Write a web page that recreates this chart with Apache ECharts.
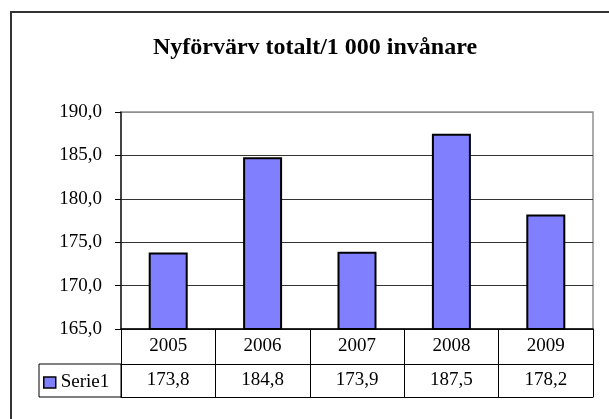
<!DOCTYPE html>
<html>
<head>
<meta charset="utf-8">
<style>
  html, body { margin: 0; padding: 0; background: #fff; overflow: hidden; }
  #chart { width: 609px; height: 419px; }
</style>
<script src="https://cdn.jsdelivr.net/npm/echarts@6/dist/echarts.min.js"></script>
</head>
<body>
<div id="chart"></div>
<script>
var years = ['2005', '2006', '2007', '2008', '2009'];
var values = [173.8, 184.8, 173.9, 187.5, 178.2];
var seriesName = 'Serie1';
var yTicks = { min: 165, max: 190, step: 5 };

// svensk decimalkomma
function fmt(v) {
  return Number(v).toFixed(1).replace('.', ',');
}

var font = 'Liberation Serif, Times New Roman, serif';
var myChart = echarts.init(document.getElementById('chart'));

myChart.setOption({
  animation: false,
  title: {
    text: 'Nyförvärv totalt/1 000 invånare',
    left: 315,
    textAlign: 'center',
    top: 36,
    padding: 0,
    textStyle: { fontFamily: font, fontSize: 24, fontWeight: 'bold', color: '#000' }
  },
  legend: {
    left: 43,
    top: 373,
    padding: 0,
    itemWidth: 12,
    itemHeight: 11,
    itemGap: 0,
    icon: 'rect',
    textStyle: { fontFamily: font, fontSize: 19, color: '#000' },
    itemStyle: { borderColor: '#000', borderWidth: 1.5 },
    data: [seriesName]
  },
  grid: {
    left: 121,
    right: 16,
    top: 112,
    bottom: 90,
    show: true,
    borderColor: '#909090',
    borderWidth: 1.5,
    backgroundColor: '#fff'
  },
  // tabellen under diagrammet: tre x-axlar ovanpå varandra
  xAxis: [{
    type: 'category',
    data: years,
    position: 'bottom',
    axisLine: { lineStyle: { color: '#000', width: 1.5 } },
    axisTick: { show: true, length: 35, lineStyle: { color: '#000', width: 1 } },
    axisLabel: { margin: 8, fontFamily: font, fontSize: 19, color: '#000' }
  }, {
    type: 'category',
    data: years,
    position: 'bottom',
    offset: 35,
    axisLine: { lineStyle: { color: '#000', width: 1 } },
    axisTick: { show: true, length: 33, lineStyle: { color: '#000', width: 1 } },
    axisLabel: {
      margin: 7, fontFamily: font, fontSize: 19, color: '#000',
      formatter: function (v, i) { return fmt(values[i]); }
    }
  }, {
    type: 'category',
    data: years,
    position: 'bottom',
    offset: 68,
    axisLine: { lineStyle: { color: '#000', width: 1 } },
    axisTick: { show: false },
    axisLabel: { show: false }
  }],
  yAxis: {
    type: 'value',
    min: yTicks.min,
    max: yTicks.max,
    interval: yTicks.step,
    axisLine: { show: true, lineStyle: { color: '#222', width: 1.5 } },
    axisTick: { show: true, length: 6, lineStyle: { color: '#000' } },
    axisLabel: { margin: 19, fontFamily: font, fontSize: 19, color: '#000', formatter: fmt },
    splitLine: {
      lineStyle: { color: ['#333', '#333', '#333', '#333', '#333', '#909090'], width: 1 }
    }
  },
  graphic: [{
    type: 'rect',
    shape: { x: 11, y: 12, width: 700, height: 500 },
    style: { fill: 'none', stroke: '#333', lineWidth: 2 },
    silent: true
  }, {
    type: 'rect',
    shape: { x: 39, y: 364, width: 82, height: 33 },
    style: { fill: 'none', stroke: '#000', lineWidth: 1 },
    silent: true
  }],
  series: [{
    name: seriesName,
    type: 'bar',
    barWidth: 39,
    data: values,
    itemStyle: { color: '#8080ff', borderColor: '#000', borderWidth: 2 }
  }]
});
</script>
</body>
</html>
